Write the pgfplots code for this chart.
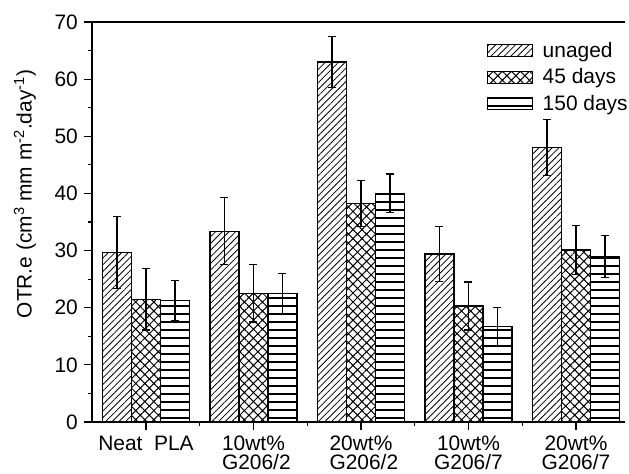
\documentclass[border=0pt]{standalone}
\usepackage{pgfplots}
\pgfplotsset{compat=1.18}
\usepackage{fontspec}
\setmainfont{Liberation Sans}
\usetikzlibrary{patterns.meta}
\newcommand{\lbl}{\fontsize{21}{19}\selectfont}
\begin{document}
\begin{tikzpicture}
\begin{axis}[
  scale only axis, width=533bp, height=400bp,
  xmin=-0.502, xmax=4.456, ymin=0, ymax=70,
  ybar=0pt, bar width=29bp,
  axis x line*=bottom, axis y line*=left,
  axis line style={line width=1.2bp, -},
  xtick={0,1,2,3,4},
  xticklabels={Neat\ \ PLA, 10wt\%\\\ G206/2, 20wt\%\\\ G206/2, 10wt\%\\G206/7, 20wt\%\\G206/7},
  minor xtick={0.5,1.5,2.5,3.5},
  ytick={0,10,...,70}, minor ytick={5,15,...,65},
  tick align=outside, major tick length=8bp, minor tick length=4bp,
  every tick/.style={line width=1.2bp, black},
  xticklabel style={align=center, font=\lbl, inner sep=6bp},
  yticklabel style={font=\lbl, inner sep=6bp},
  /pgf/number format/assume math mode=true,
  ylabel={OTR.e (cm\textsuperscript{3} mm m\textsuperscript{-2}.day\textsuperscript{-1})},
  ylabel style={font=\lbl, at={(ticklabel cs:0.57)}},
  ylabel shift=9bp,
  legend style={draw=none, fill=none, at={(0.741,0.955)}, anchor=north west, font=\lbl, row sep=6bp, inner sep=0pt},
  legend cell align=left,
  legend image code/.code={\draw[#1, line width=1.2bp] (0bp,-6bp) rectangle (45bp,6bp); \path[draw=none, fill=none] (0bp,0bp) -- (53bp,0bp);},
  error bars/y dir=both, error bars/y explicit,
  error bars/error bar style={line width=1.1bp, black},
  error bars/error mark options={rotate=90, mark size=4bp, line width=1.1bp, black},
]
\addplot[draw=black, line width=1.2bp, pattern={Lines[angle=45,distance=4.7bp,line width=0.8bp]}]
  table[x=x, y=y, y error=e] {
x y e
0 29.6 6.3
1 33.4 5.9
2 63.0 4.4
3 29.4 4.8
4 48.0 4.9
};
\addplot[draw=black, line width=1.2bp, pattern={Hatch[angle=45,distance=6.4bp,line width=1bp]}]
  table[x=x, y=y, y error=e] {
x y e
0 21.5 5.4
1 22.5 5.0
2 38.2 4.0
3 20.3 4.2
4 30.1 4.3
};
\addplot[draw=black, line width=1.2bp, pattern={Lines[angle=0,distance=8bp,line width=2bp]}]
  table[x=x, y=y, y error=e] {
x y e
0 21.2 3.5
1 22.5 3.5
2 40.0 3.4
3 16.7 3.4
4 29.0 3.7
};
\legend{unaged, 45 days, 150 days}
\draw[line width=1.2bp] (rel axis cs:0,1) -- (rel axis cs:1,1);
\coordinate (bl) at (rel axis cs:0,0);
\coordinate (tr) at (rel axis cs:1,1);
\end{axis}
\pgfresetboundingbox
\path[use as bounding box] ([shift={(-92bp,-52bp)}]bl) rectangle ([shift={(4bp,22bp)}]tr);
\end{tikzpicture}
\end{document}
